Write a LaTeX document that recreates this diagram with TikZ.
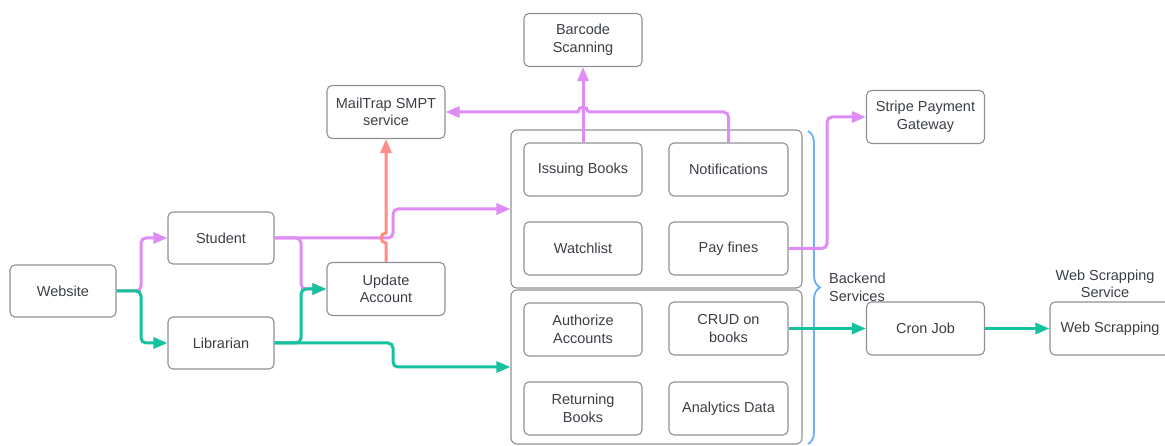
\documentclass[tikz,border=0pt]{standalone}
\usepackage{fontspec}
\setmainfont{Liberation Sans}
\usetikzlibrary{arrows.meta,decorations.pathreplacing}

\definecolor{boxgray}{HTML}{8E9096}
\definecolor{txt}{HTML}{3A3F46}
\definecolor{flowpurple}{HTML}{DF8CF6}
\definecolor{flowgreen}{HTML}{14C29E}
\definecolor{flowred}{HTML}{FF8C86}
\definecolor{bracebl}{HTML}{6AAFFF}

\tikzset{
  box/.style={draw=boxgray, line width=1.1pt, rounded corners=5pt,
    minimum width=118pt, minimum height=53pt, align=center, text=txt,
    inner sep=2pt, font=\fontsize{14.5}{17.5}\selectfont},
  smallbox/.style={box, minimum width=106pt, minimum height=52pt},
  groupbox/.style={draw=boxgray, line width=1.1pt, rounded corners=6pt, inner sep=0pt},
  label/.style={text=txt, font=\fontsize{14.5}{17.5}\selectfont, inner sep=0pt},
  tipped/.style={-{Triangle[length=14pt,width=11pt]}},
  wire/.style={line width=3pt, rounded corners=5pt},
  flow/.style={wire, tipped},
  pc/.style={flow, draw=flowpurple},
  gc/.style={flow, draw=flowgreen},
  rc/.style={flow, draw=flowred, sharp corners},
  pwire/.style={wire, draw=flowpurple},
  phop/.style={line width=3pt, draw=flowpurple, sharp corners, tipped},
}

\begin{document}
\begin{tikzpicture}[x=1pt,y=-1pt]
\useasboundingbox (0,0) rectangle (1165,446);
\clip (0,0) rectangle (1165,446);

% service groups
\node[groupbox, minimum width=291pt, minimum height=158pt] (gtop) at (656.5,209) {};
\node[groupbox, minimum width=291pt, minimum height=154pt] (gbot) at (656.5,367) {};

% clients
\node[smallbox] (web) at (63,291) {Website};
\node[smallbox] (stu) at (221,238) {Student};
\node[smallbox] (lib) at (221,343) {Librarian};
\node[box] (upd) at (386,289) {Update\\Account};
\node[box] (mail) at (386,112) {MailTrap SMPT\\service};
\node[box] (bar) at (583,40) {Barcode\\Scanning};

% backend services
\node[box] (iss) at (583,169.5) {Issuing Books};
\node[box, minimum width=119pt] (noti) at (728.5,169.5) {Notifications};
\node[box] (wat) at (583,248.5) {Watchlist};
\node[box, minimum width=119pt] (pay) at (728.5,248.5) {Pay fines};
\node[box] (auth) at (583,329.5) {Authorize\\Accounts};
\node[box, minimum width=119pt] (crud) at (728.5,328.5) {CRUD on\\books};
\node[box] (ret) at (583,408.5) {Returning\\Books};
\node[box, minimum width=119pt] (ana) at (728.5,408.5) {Analytics Data};

% external services
\node[box] (str) at (925.5,117) {Stripe Payment\\Gateway};
\node[box] (cron) at (925.5,328.5) {Cron Job};
\node[box, minimum width=120pt] (webs) at (1110,328.5) {Web Scrapping};

% labels
\draw[bracebl, line width=1.8pt, decorate, decoration={brace, amplitude=12pt}]
  (808,131) -- (808,444);
\node[label, anchor=north west, align=left] (backlbl) at (829,273) {Backend\\Services};
\node[label, align=center] (wslbl) at (1105,284) {Web Scrapping\\Service};

% branch and hop points
\coordinate (sbr) at (301,238);
\coordinate (wbr) at (141,291);
\coordinate (hopr) at (588,112);

% student flows
\draw[pc] (web.east) -- (wbr) |- (stu.west);
\draw[pc] (stu.east) -- (393,238) |- (gtop.west);
\draw[pc] (stu.east) -- (sbr) |- (upd.west);

% librarian flows
\draw[gc] (web.east) -- (wbr) |- (lib.west);
\draw[gc] (lib.east) -- (lib.east -| sbr) |- (upd.west);
\draw[gc] (lib.east) -- (393,343) |- (gbot.west);

% account update mail, hopping over the student line
\draw[rc] (upd.north) -- (386,243) arc[start angle=-90, end angle=-270, radius=5pt] -- (mail.south);

% issuing and notifications
\draw[pc] (iss.north) -- (bar.south);
\draw[pwire] (noti.north) |- (hopr);
\draw[phop] (hopr) arc[start angle=0, end angle=180, radius=5pt] -- (mail.east);

% payments and scraping
\draw[pc] (pay.east) -- (827,248.5) |- (str.west);
\draw[gc] (crud.east) -- (cron.west);
\draw[gc] (cron.east) -- (webs.west);
\end{tikzpicture}
\end{document}
